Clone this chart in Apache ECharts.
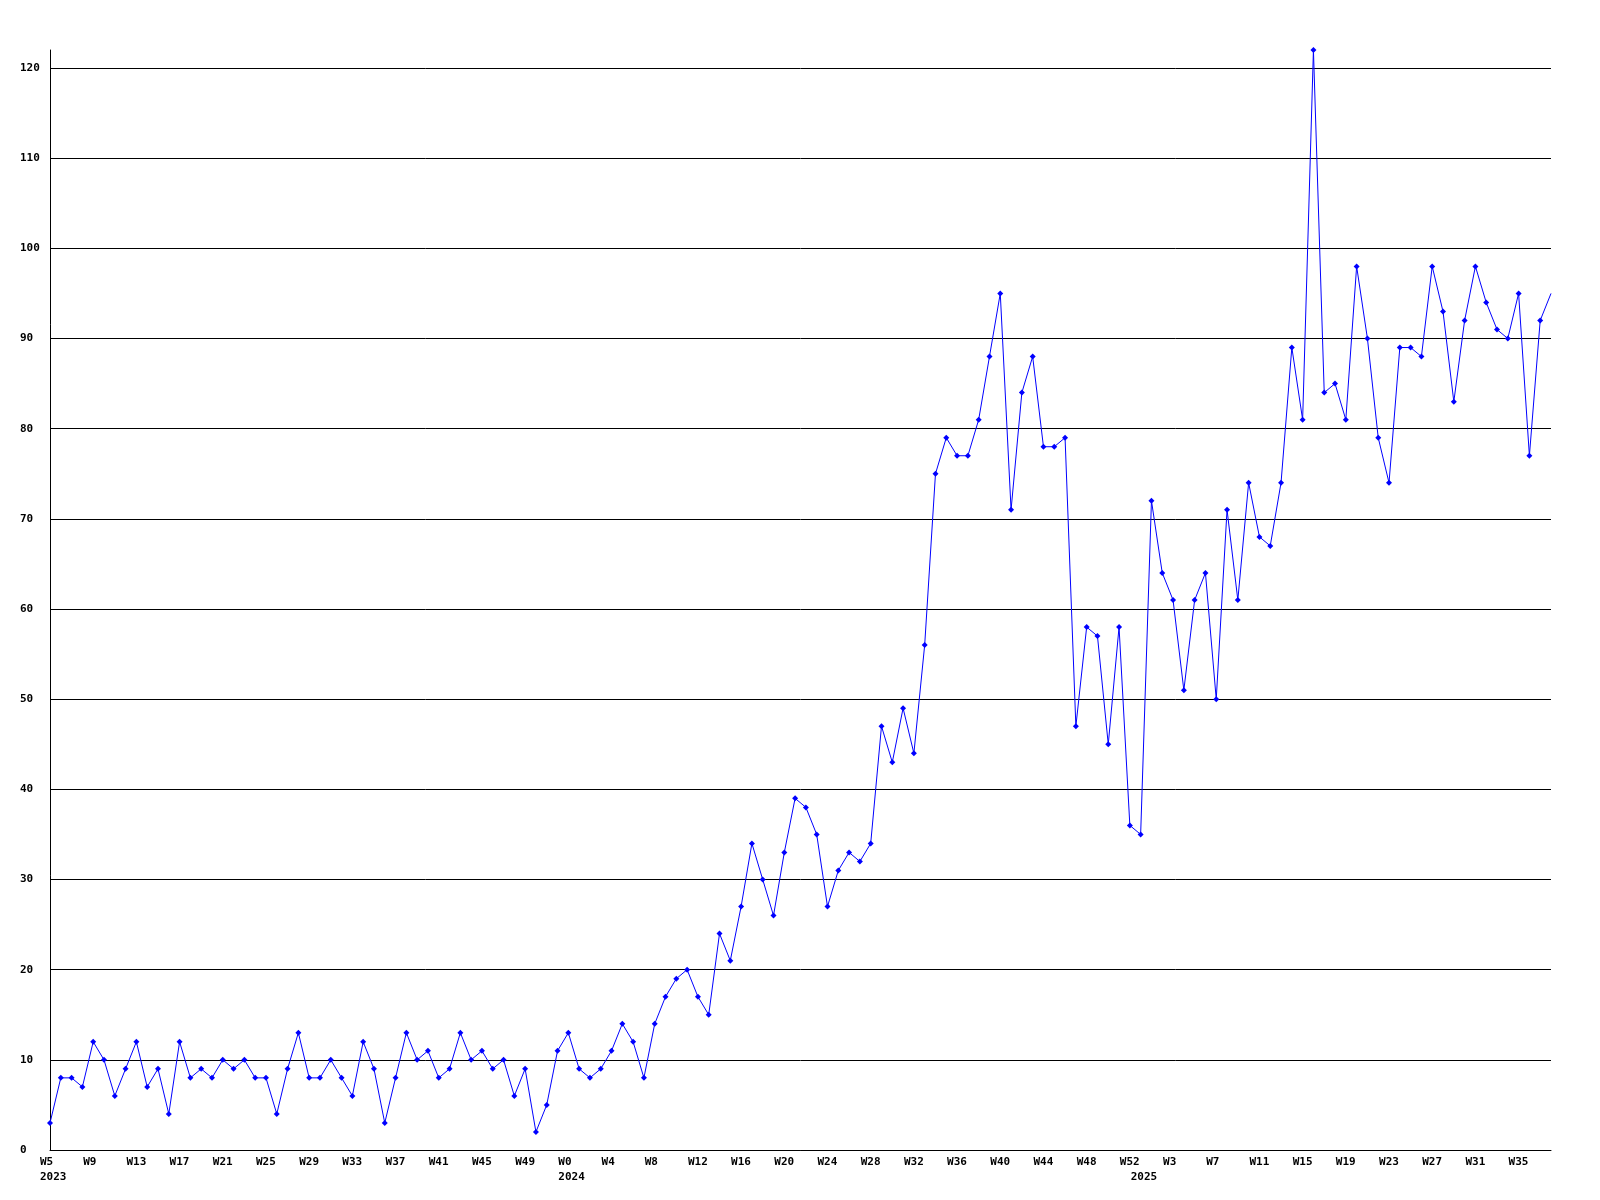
<!DOCTYPE html>
<html>
<head>
<meta charset="utf-8">
<script src="https://cdn.jsdelivr.net/npm/echarts@6/dist/echarts.min.js"></script>
<style>
  html, body { margin: 0; padding: 0; background: #fff; }
  #chart { width: 1600px; height: 1200px; }
</style>
</head>
<body>
<div id="chart"></div>
<script>
// year, first week, last week shown
var yearRanges = [[2023, 5, 52], [2024, 0, 52], [2025, 0, 38]];

// weekly counts, 2023 W5 .. 2025 W38
var counts = [
  3, 8, 8, 7, 12, 10, 6, 9, 12, 7,
  9, 4, 12, 8, 9, 8, 10, 9, 10, 8,
  8, 4, 9, 13, 8, 8, 10, 8, 6, 12,
  9, 3, 8, 13, 10, 11, 8, 9, 13, 10,
  11, 9, 10, 6, 9, 2, 5, 11, 13, 9,
  8, 9, 11, 14, 12, 8, 14, 17, 19, 20,
  17, 15, 24, 21, 27, 34, 30, 26, 33, 39,
  38, 35, 27, 31, 33, 32, 34, 47, 43, 49,
  44, 56, 75, 79, 77, 77, 81, 88, 95, 71,
  84, 88, 78, 78, 79, 47, 58, 57, 45, 58,
  36, 35, 72, 64, 61, 51, 61, 64, 50, 71,
  61, 74, 68, 67, 74, 89, 81, 122, 84, 85,
  81, 98, 90, 79, 74, 89, 89, 88, 98, 93,
  83, 92, 98, 94, 91, 90, 95, 77, 92, 95
];

var yTicks = [0, 10, 20, 30, 40, 50, 60, 70, 80, 90, 100, 110, 120];

var weeks = [];
var yearStart = {};
yearRanges.forEach(function (r) {
  yearStart[weeks.length] = String(r[0]);
  for (var w = r[1]; w <= r[2]; w++) weeks.push('W' + w);
});

var labelFont = {
  fontFamily: 'DejaVu Sans Mono',
  fontWeight: 'bold',
  fontSize: 11,
  color: '#000'
};

// last point runs off the right edge without a marker
var seriesData = counts.map(function (v, i) {
  return i === counts.length - 1 ? { value: v, symbol: 'none' } : v;
});

// grid lines black, except the extra one ECharts puts at max
var gridColors = yTicks.map(function () { return '#000'; });
gridColors.push('rgba(0,0,0,0)');

var myChart = echarts.init(document.getElementById('chart'));
var option = {
  backgroundColor: '#fff',
  animation: false,
  grid: { left: 50, right: 49, top: 50, bottom: 50 },
  xAxis: [
    {
      type: 'category',
      data: weeks,
      boundaryGap: false,
      axisLine: { lineStyle: { color: '#000', width: 1 } },
      axisTick: { show: false },
      axisLabel: Object.assign({
        interval: 3,
        margin: 7,
        align: 'left',
        padding: [0, 0, 0, -10]
      }, labelFont),
      splitLine: { show: false }
    },
    {
      type: 'category',
      position: 'bottom',
      data: weeks,
      boundaryGap: false,
      axisLine: { show: false },
      axisTick: { show: false },
      axisLabel: Object.assign({
        interval: function (index) { return yearStart[index] !== undefined; },
        formatter: function (value, index) { return yearStart[index] || ''; },
        margin: 22,
        align: 'left',
        padding: [0, 0, 0, -10]
      }, labelFont),
      splitLine: { show: false }
    }
  ],
  yAxis: {
    type: 'value',
    min: 0,
    max: 122,
    interval: 10,
    axisLine: { show: true, lineStyle: { color: '#000', width: 1 } },
    axisTick: { show: false },
    axisLabel: Object.assign({
      align: 'left',
      margin: 30,
      showMaxLabel: false
    }, labelFont),
    splitLine: { show: true, lineStyle: { color: gridColors, width: 1 } }
  },
  series: [
    {
      type: 'line',
      xAxisIndex: 0,
      data: seriesData,
      symbol: 'diamond',
      symbolSize: 6,
      showAllSymbol: true,
      lineStyle: { color: '#0000ff', width: 1 },
      itemStyle: { color: '#0000ff' }
    }
  ]
};
myChart.setOption(option);
</script>
</body>
</html>
